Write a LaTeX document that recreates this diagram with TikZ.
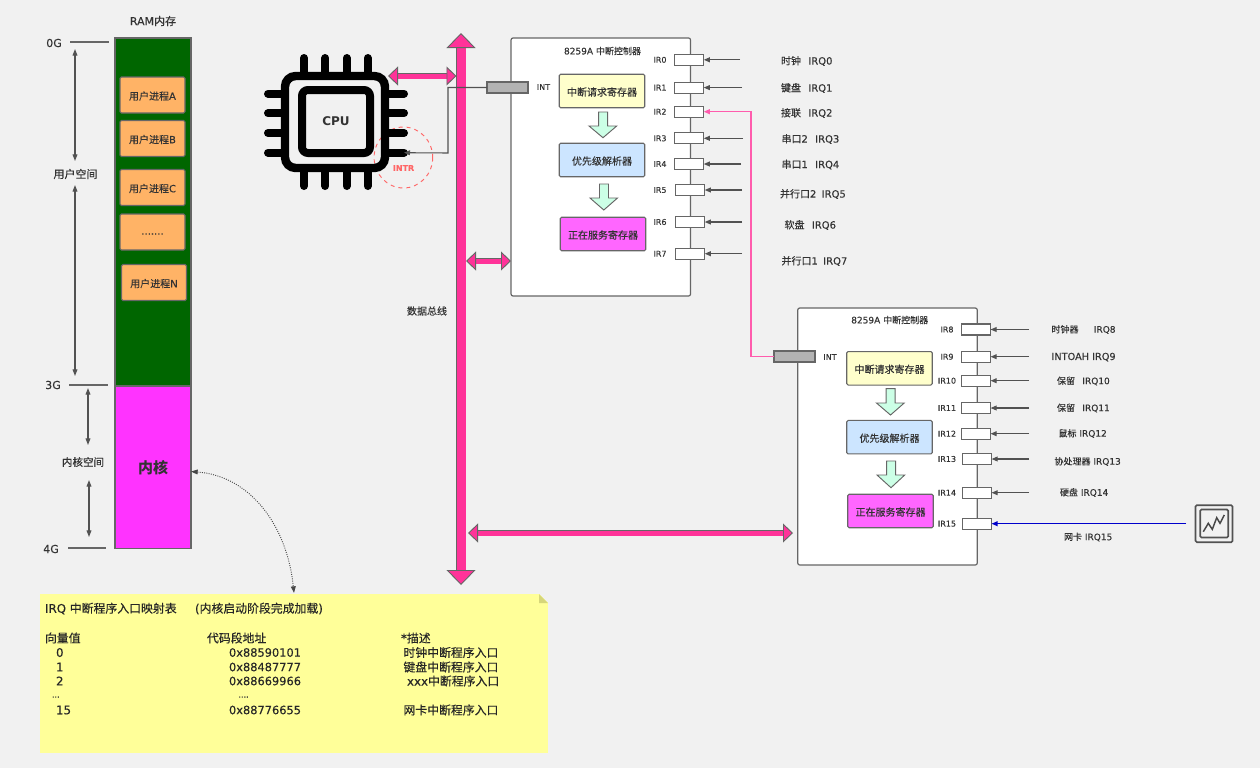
\documentclass[tikz,border=0pt]{standalone}
\usepackage{fontspec}
\setmainfont[FakeBold=0.2]{DejaVu Sans}
\newfontfamily\cjkfont[FakeBold=0.25]{Noto Sans CJK SC}
\newfontfamily\heavycjk{Noto Sans CJK SC}
\newfontfamily\heavylatin{DejaVu Sans}
\newcommand\cj[1]{{\cjkfont #1}}
\usetikzlibrary{arrows.meta,calc}
\newdimen\U \U=0.75pt
\definecolor{canvas}{HTML}{F1F1F1}
\definecolor{ink}{HTML}{333333}
\definecolor{edge}{HTML}{666666}
\definecolor{buspink}{HTML}{FF3399}
\definecolor{cascade}{HTML}{FF5CAD}
\definecolor{intrred}{HTML}{FF6666}
\definecolor{usergreen}{HTML}{006600}
\definecolor{kernelpink}{HTML}{FF33FF}
\definecolor{procorange}{HTML}{FFB366}
\definecolor{notefill}{HTML}{FFFF99}
\definecolor{noteear}{HTML}{D6D67A}
\definecolor{pingray}{HTML}{B3B3B3}
\definecolor{flowgreen}{HTML}{CCFFE6}
\definecolor{regyellow}{HTML}{FFFFCC}
\definecolor{regblue}{HTML}{CCE5FF}
\definecolor{regpink}{HTML}{FF66FF}
\definecolor{nicblue}{HTML}{0000CC}
\tikzset{
  x=0.75pt, y=-0.75pt,
  every node/.style={inner sep=0pt, outer sep=0pt, text=ink},
  tiny label/.style={font=\fontsize{6}{7}\selectfont},
  small label/.style={font=\fontsize{6.75}{8}\selectfont},
  body label/.style={font=\fontsize{7.5}{9}\selectfont},
  big label/.style={font=\fontsize{8.25}{10}\selectfont},
  note label/.style={font=\fontsize{8.9}{10}\selectfont, anchor=west, text=black!85},
  address label/.style={font=\fontsize{8.55}{10}\selectfont, anchor=west, text=black!85},
  irq label/.style={font=\fontsize{6.75}{8}\selectfont, anchor=west},
  ramcell/.style 2 args={draw=edge, line width=1pt, minimum width=#1\U, minimum height=#2\U},
  process/.style={draw=edge, line width=0.8pt, rounded corners=1pt, fill=procorange,
                  minimum width=65\U, minimum height=36\U, body label, text height=8.1pt, text depth=0.9pt},
  chip/.style={draw=edge, line width=0.9pt, fill=white, rounded corners=1.5pt, minimum width=179.5\U},
  reg/.style={draw=edge, line width=0.8pt, rounded corners=1pt, minimum width=85.5\U, minimum height=33.5\U,
              body label, text height=8.1pt, text depth=0.9pt},
  intpin/.style={draw=edge, line width=0.8pt, fill=pingray, minimum width=41\U, minimum height=11\U},
  irpin/.style={draw=edge, line width=0.8pt, fill=white, minimum width=29.5\U, minimum height=11\U},
  flow/.style={draw=edge, line width=0.7pt, fill=flowgreen},
  wire/.style={draw=edge!80!black, line width=0.8pt, -{Triangle[length=4.5pt,width=3.6pt]}},
  span/.style={draw=edge!80!black, line width=0.8pt, {Triangle[length=5pt,width=3.6pt]}-{Triangle[length=5pt,width=3.6pt]}},
  tick/.style={draw=edge, line width=0.8pt},
  pin/.style={draw=black, line width=6pt, line cap=round},
  branchbus/.style={draw=edge, line width=0.7pt, double=buspink, double distance=3.75pt,
     {Triangle[length=7.5pt,width=14.25pt,fill=buspink,color=edge,line width=0.7pt]}-{Triangle[length=7.5pt,width=14.25pt,fill=buspink,color=edge,line width=0.7pt]}},
  mainbus/.style={draw=edge, line width=0.7pt, double=buspink, double distance=6.75pt,
     {Triangle[length=11.25pt,width=21.75pt,fill=buspink,color=edge,line width=0.7pt]}-{Triangle[length=11.25pt,width=21.75pt,fill=buspink,color=edge,line width=0.7pt]}},
}
\begin{document}
\begin{tikzpicture}
\useasboundingbox (0,0) rectangle (1260,768);
\fill[canvas] (0,0) rectangle (1260,768);

% Memory column with address ticks
\node[big label] (ramtitle) at (153,21) {RAM\cj{内存}};
\node[ramcell={76}{348}, fill=usergreen] (user) at (153,212) {};
\node[ramcell={76}{162}, fill=kernelpink, font=\fontsize{11.25}{14}\selectfont] (kern) at (153,467.5) {\heavycjk\bfseries 内核};
\node[process] (pa) at (152.5,95) {\cj{用户进程}A};
\node[process] (pb) at (152.5,138.5) {\cj{用户进程}B};
\node[process] (pc) at (152.5,187.5) {\cj{用户进程}C};
\node[process, text height=4pt, text depth=0pt] (pd) at (152.5,232) {.......};
\node[process] (pn) at (154,282.5) {\cj{用户进程}N};

\node[big label] (g0) at (54,43) {0G};
\node[big label] (g3) at (53,385) {3G};
\node[big label] (g4) at (51,549) {4G};
\coordinate (t0) at (109,42);
\coordinate (t3) at (108,385);
\coordinate (t4) at (106,548);
\draw[tick] (70,42) -- (t0);
\draw[tick] (69,385) -- (t3);
\draw[tick] (68,548) -- (t4);
\node[font=\fontsize{8.25}{10}\selectfont] (uspace) at (75.5,174) {\cj{用户空间}};
\node[font=\fontsize{7.9}{10}\selectfont] (kspace) at (83,462) {\cj{内核空间}};
\coordinate (ua) at (75,49);
\coordinate (ub) at (75,161);
\coordinate (uc) at (75,185);
\coordinate (ud) at (75,376);
\coordinate (ka) at (88,388);
\coordinate (kb) at (88,445);
\coordinate (kc) at (89,480);
\coordinate (kd) at (89,537);
\draw[span] (ua) -- (ub);
\draw[span] (uc) -- (ud);
\draw[span] (ka) -- (kb);
\draw[span] (kc) -- (kd);

% Interrupt vector note
\node[fill=notefill, minimum width=508\U, minimum height=159\U] (note) at (294,673.5) {};
\fill[canvas] (539,593.6) -- (548.5,593.6) -- (548.5,603) -- cycle;
\fill[noteear] (539,594) -- (548,603) -- (539,603) -- cycle;
\node[note label] (ntitle) at (45,608.5) {IRQ \cj{中断程序入口映射表}};
\node[note label] (nsub) at (195,608.5) {(\cj{内核启动阶段完成加载})};
\node[note label] (hvec) at (45,638) {\cj{向量值}};
\node[note label] (hadr) at (207,638) {\cj{代码段地址}};
\node[note label] (hdsc) at (401,638) {*\cj{描述}};
\foreach \id/\row/\vnum/\adr/\dx/\dsc in {
   a/652.5/0/0x88590101/403.5/\cj{时钟中断程序入口},
   b/667/1/0x88487777/403.5/\cj{键盘中断程序入口},
   c/681/2/0x88669966/407/xxx\cj{中断程序入口},
   e/710/15/0x88776655/403.5/\cj{网卡中断程序入口}}{
  \node[note label] (v\id) at (56,\row) {\vnum};
  \node[address label] (r\id) at (229,\row) {\adr};
  \node[note label] (d\id) at (\dx,\row) {\dsc};
}
\node[tiny label, anchor=west] (vdots) at (52,697) {...};
\node[tiny label, anchor=west] (rdots) at (238.5,697) {....};

% Link from the kernel block to the note
\coordinate (notetop) at (294,593);
\draw[densely dotted, draw=edge!70!black, line width=0.7pt,
      {Triangle[length=5pt,width=3.6pt]}-{Triangle[length=5pt,width=3.6pt]}]
  ([yshift=-3pt]kern.east) .. controls (250,476) and (287,525) .. (notetop);

% Processor icon
\draw[intrred, dashed, line width=0.7pt] (403.4,157.5) ellipse (29.3 and 30.5);
\node[font=\bfseries\fontsize{6}{7}\selectfont, text=intrred] (intr) at (403.5,168) {INTR};
\node[draw=black, line width=6.3pt, rounded corners=8pt, minimum width=100\U, minimum height=92\U] (cpu) at (335,122) {};
\node[draw=black, line width=6pt, rounded corners=4.5pt, minimum width=68\U, minimum height=63\U,
      font=\fontsize{9}{12}\selectfont] (core) at (336,121.5) {\heavylatin\bfseries CPU};
\foreach \i/\cx in {1/304,2/325.3,3/346.7,4/367.7}{
  \coordinate (pt\i) at (\cx,58);
  \coordinate (pb\i) at (\cx,186);
  \draw[pin] (pt\i) -- (\cx,72);
  \draw[pin] (pb\i) -- (\cx,172);
}
\foreach \i/\cy in {1/93.7,2/113.3,3/133,4/152.7}{
  \coordinate (pl\i) at (268,\cy);
  \coordinate (pr\i) at (404,\cy);
  \draw[pin] (pl\i) -- (281,\cy);
  \draw[pin] (pr\i) -- (389,\cy);
}

% Data bus
\coordinate (bustop) at (461,33);
\coordinate (busbot) at (461,585);
\draw[mainbus] (bustop) -- (busbot);
\node[body label] (buslabel) at (427,311) {\cj{数据总线}};

% First controller
\node[chip, minimum height=258\U] (c1) at (600.8,167) {};
\node[small label] (c1title) at (602.5,51) {8259A \cj{中断控制器}};
\node[intpin] (int1) at (507.5,87.5) {};
\node[tiny label] (int1l) at (543.5,87) {INT};
\node[reg, fill=regyellow] (r1a) at (602,91) {\cj{中断请求寄存器}};
\node[reg, fill=regblue] (r1b) at (602,160) {\cj{优先级解析器}};
\node[reg, fill=regpink] (r1c) at (603,234) {\cj{正在服务寄存器}};
\draw[flow] (598.7,112) -- (607.7,112) -- (607.7,126) -- (616.7,126) -- (603,137.7) -- (589,126) -- (598.7,126) -- cycle;
\draw[flow] (599.5,184) -- (608.5,184) -- (608.5,198) -- (617.5,198) -- (603.8,210) -- (590,198) -- (599.5,198) -- cycle;
\foreach \n/\cy/\cx/\ex in {
   0/59.8/689/740,
   1/87.6/689/742,
   2/111.7/689/0,
   3/138.3/689/743,
   4/164/689/741,
   5/190/690/742,
   6/222/690/742,
   7/253.7/690/742}{
  \node[irpin] (ir\n) at (\cx,\cy) {};
  \node[tiny label] (irl\n) at (660,\cy) {IR\n};
  \ifnum\ex>0
    \coordinate (src\n) at (\ex,\cy);
    \draw[wire] (src\n) -- (ir\n.east);
  \fi
}
\node[body label, anchor=west] (q0) at (781,61) {\cj{时钟}\hspace{5.5pt}IRQ0};
\node[body label, anchor=west] (q1) at (781,88) {\cj{键盘}\hspace{5.5pt}IRQ1};
\node[body label, anchor=west] (q2) at (781,113) {\cj{接联}\hspace{5.5pt}IRQ2};
\node[body label, anchor=west] (q3) at (781.5,139) {\cj{串口}2\hspace{5.5pt}IRQ3};
\node[body label, anchor=west] (q4) at (781.5,164.5) {\cj{串口}1\hspace{5.5pt}IRQ4};
\node[body label, anchor=west] (q5) at (780,194) {\cj{并行口}2\hspace{4pt}IRQ5};
\node[body label, anchor=west] (q6) at (784.5,225) {\cj{软盘}\hspace{5.5pt}IRQ6};
\node[body label, anchor=west] (q7) at (781.5,261) {\cj{并行口}1\hspace{4pt}IRQ7};

% Second controller
\node[chip, minimum height=257\U] (c2) at (887.5,436.5) {};
\node[small label] (c2title) at (889.7,320) {8259A \cj{中断控制器}};
\node[intpin] (int2) at (794.5,356.5) {};
\node[tiny label] (int2l) at (830,357) {INT};
\node[reg, fill=regyellow] (r2a) at (889.5,368.3) {\cj{中断请求寄存器}};
\node[reg, fill=regblue] (r2b) at (889.5,437.2) {\cj{优先级解析器}};
\node[reg, fill=regpink] (r2c) at (890.5,511) {\cj{正在服务寄存器}};
\draw[flow] (886.2,388.7) -- (895.2,388.7) -- (895.2,403) -- (904.2,403) -- (890.5,415) -- (876.5,403) -- (886.2,403) -- cycle;
\draw[flow] (886.7,461) -- (895.7,461) -- (895.7,475) -- (904.7,475) -- (891,487.7) -- (877,475) -- (886.7,475) -- cycle;
\foreach \n/\cy/\cx/\ex in {
   8/329.5/975.8/1029,
   9/356.7/975.8/1029,
   10/380.7/975.8/1029,
   11/408/975.8/1029,
   12/433.7/975.8/1029,
   13/459/976.8/1029,
   14/492.7/976.8/1029,
   15/523.7/976.8/0}{
  \node[irpin] (ir\n) at (\cx,\cy) {};
  \node[tiny label] (irl\n) at (947,\cy) {IR\n};
  \ifnum\ex>0
    \coordinate (src\n) at (\ex,\cy);
    \draw[wire] (src\n) -- (ir\n.east);
  \fi
}
\node[irq label] (q8) at (1051.5,329.5) {\cj{时钟器}\hspace{11.5pt}IRQ8};
\node[irq label, font=\fontsize{7.3}{8}\selectfont] (q9) at (1051.5,357) {INTOAH IRQ9};
\node[irq label] (q10) at (1057,381) {\cj{保留}\hspace{5.5pt}IRQ10};
\node[irq label] (q11) at (1057,408) {\cj{保留}\hspace{5.5pt}IRQ11};
\node[irq label] (q12) at (1058.5,433.5) {\cj{鼠标} IRQ12};
\node[irq label] (q13) at (1054.5,461.5) {\cj{协处理器} IRQ13};
\node[irq label] (q14) at (1060,492.5) {\cj{硬盘} IRQ14};
\node[irq label] (q15) at (1064,537) {\cj{网卡} IRQ15};

% Network card icon
\node[draw=edge!80!black, line width=1.2pt, rounded corners=1pt, minimum width=37\U, minimum height=37\U] (nic) at (1214,523.7) {};
\node[draw=edge!80!black, line width=1.2pt, rounded corners=1pt, minimum width=28\U, minimum height=28\U] (nicin) at (1214.2,523.5) {};
\draw[edge!70!black, line width=1.1pt] (1203.3,531.7) -- (1208.3,523.3) -- (1212.3,529.3) -- (1216.7,517.7) -- (1220,523.3) -- (1224.3,515);

% Connections between parts
\coordinate (jog1) at (448,153);
\draw[wire] (int1.west) -| (jog1) -- (pr4);
\coordinate (cjog) at (751,111.7);
\draw[draw=cascade, line width=0.9pt, -{Triangle[length=4.5pt,width=3.6pt,fill=cascade]}] (int2.west) -| (cjog) -- (ir2.east);
\draw[draw=nicblue, line width=0.9pt, shorten <=7pt,
      -{Triangle[length=4.5pt,width=3.6pt,fill=nicblue]}] (nic.west) -- (ir15.east);

% Bus branches
\coordinate (cpubusL) at (388,76);
\coordinate (cpubusR) at (456.5,76);
\coordinate (b1L) at (466,261);
\coordinate (b1R) at (511,261);
\coordinate (b2L) at (468,533);
\coordinate (b2R) at (793,533);
\draw[branchbus] (cpubusL) -- (cpubusR);
\draw[branchbus] (b1L) -- (b1R);
\draw[branchbus] (b2L) -- (b2R);
\end{tikzpicture}
\end{document}
